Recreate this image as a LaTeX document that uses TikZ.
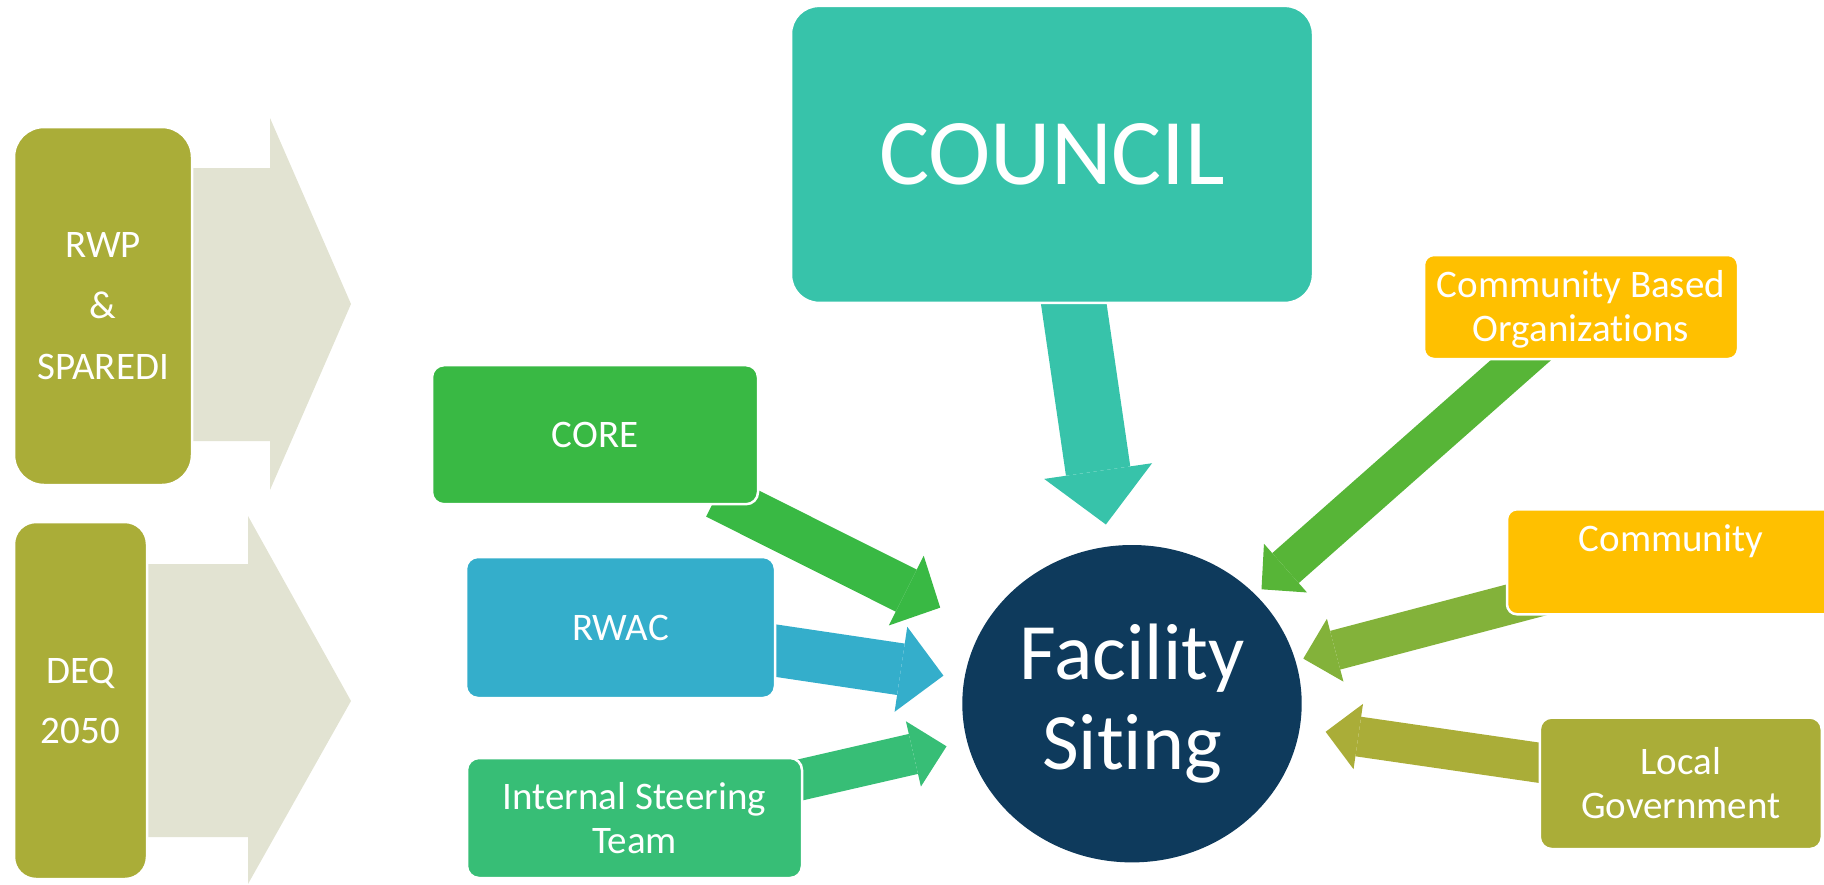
\documentclass[tikz,border=0pt]{standalone}
\usepackage{fontspec}
\setmainfont{Carlito}[Ligatures=NoCommon]
\usetikzlibrary{arrows.meta,shapes.geometric}
\pgfdeclarelayer{bg}
\pgfsetlayers{bg,main}
\definecolor{cOlive}{RGB}{170,173,56}
\definecolor{cBeige}{RGB}{226,227,210}
\definecolor{cTeal}{RGB}{55,195,170}
\definecolor{cCore}{RGB}{57,185,68}
\definecolor{cBlue}{RGB}{52,174,203}
\definecolor{cIst}{RGB}{55,190,118}
\definecolor{cYellow}{RGB}{255,192,0}
\definecolor{cCbo}{RGB}{87,181,55}
\definecolor{cComm}{RGB}{131,178,58}
\definecolor{cNavy}{RGB}{14,58,92}
\tikzset{
  box/.style={rectangle, rounded corners=#1, draw=white, line width=2.5pt,
    inner sep=0pt, text=white, align=center, font=\fontsize{39}{44}\selectfont},
  box/.default=12pt,
  lbl/.style={inner sep=0pt, text=white, font=\fontsize{39}{44}\selectfont},
  blk/.style n args={4}{line width=#1, draw=#4,
    -{Triangle[width=#2, length=#3, line width=0pt]}},
}
\begin{document}
\begin{tikzpicture}[x=1pt,y=-1pt]
\useasboundingbox (0,0) rectangle (1824,884);

% left boxes
\node[box=30pt, fill=cOlive, minimum width=178pt, minimum height=358pt,
  font=\fontsize{39}{61}\selectfont] (rwp) at (103,306) {RWP\\\&\\SPAREDI};
\node[box=22pt, fill=cOlive, minimum width=133pt, minimum height=357pt,
  font=\fontsize{39}{60}\selectfont] (deq) at (80.5,700.5) {DEQ\\2050};

% council
\node[box=28pt, fill=cTeal, minimum width=522pt, minimum height=297pt,
  font=\fontsize{94}{110}\selectfont] (council) at (1052,154.4) {COUNCIL};

% left input boxes
\node[box, fill=cCore, minimum width=326pt, minimum height=139pt] (core) at (595,434.7) {CORE};
\node[box, fill=cBlue, minimum width=309pt, minimum height=141pt] (rwac) at (620.5,627.5) {RWAC};
\node[box, fill=cIst, minimum width=335pt, minimum height=120pt] (ist) at (634.5,818) {Internal Steering\\Team};

% right boxes
\node[box=10pt, fill=cYellow, minimum width=314pt, minimum height=104pt] (cbo) at (1581,307) {};
\node[lbl, align=center] (cbotxt) at (1581,309.5) {Community Based\\Organizations};
\node[box=10pt, fill=cYellow, minimum width=328pt, minimum height=105pt] (comm) at (1671,561.8) {};
\node[lbl, anchor=base] (commtxt) at ([yshift=-43.5pt]comm.north) {Community};
\node[box, fill=cOlive, minimum width=282pt, minimum height=131.5pt] (lg) at (1680.8,783.3) {Local\\Government};

% centre
\node[ellipse, fill=cNavy, minimum width=339.4pt, minimum height=317.4pt, inner sep=0pt,
  text=white, align=center, font=\fontsize{80}{90}\selectfont] (fs) at (1132,703.7) {Facility\\Siting};

\begin{pgfonlayer}{bg}
  \fill[cBeige] (192,168) -- (270,168) -- (270,118) -- (351,304) -- (270,490) -- (270,441) -- (192,441) -- cycle;
  \fill[cBeige] (147,564) -- (248,564) -- (248,516) -- (351,701) -- (248,884) -- (248,837) -- (147,837) -- cycle;
  \draw[blk={47pt}{78pt}{38pt}{cCore}, shorten <=136pt, shorten >=47pt] (core.center) -- (fs);
  \draw[blk={52pt}{86pt}{43pt}{cBlue}, shorten >=21pt] (rwac.center) -- (fs);
  \draw[blk={41pt}{67pt}{34pt}{cIst}, shorten >=21pt] (ist.center) -- (fs);
  \draw[blk={65pt}{109pt}{54pt}{cTeal}, shorten >=22pt] (council.center) -- (fs);
  \draw[blk={40pt}{65pt}{32pt}{cCbo}, shorten >=8pt] (cbo.center) -- (fs);
  \draw[blk={40pt}{65pt}{33pt}{cComm}, shorten <=133pt, shorten >=8pt] (comm.center) -- (fs);
  \draw[blk={40pt}{66pt}{33pt}{cOlive}, shorten >=26pt] (lg.center) -- (fs);
\end{pgfonlayer}
\end{tikzpicture}
\end{document}
